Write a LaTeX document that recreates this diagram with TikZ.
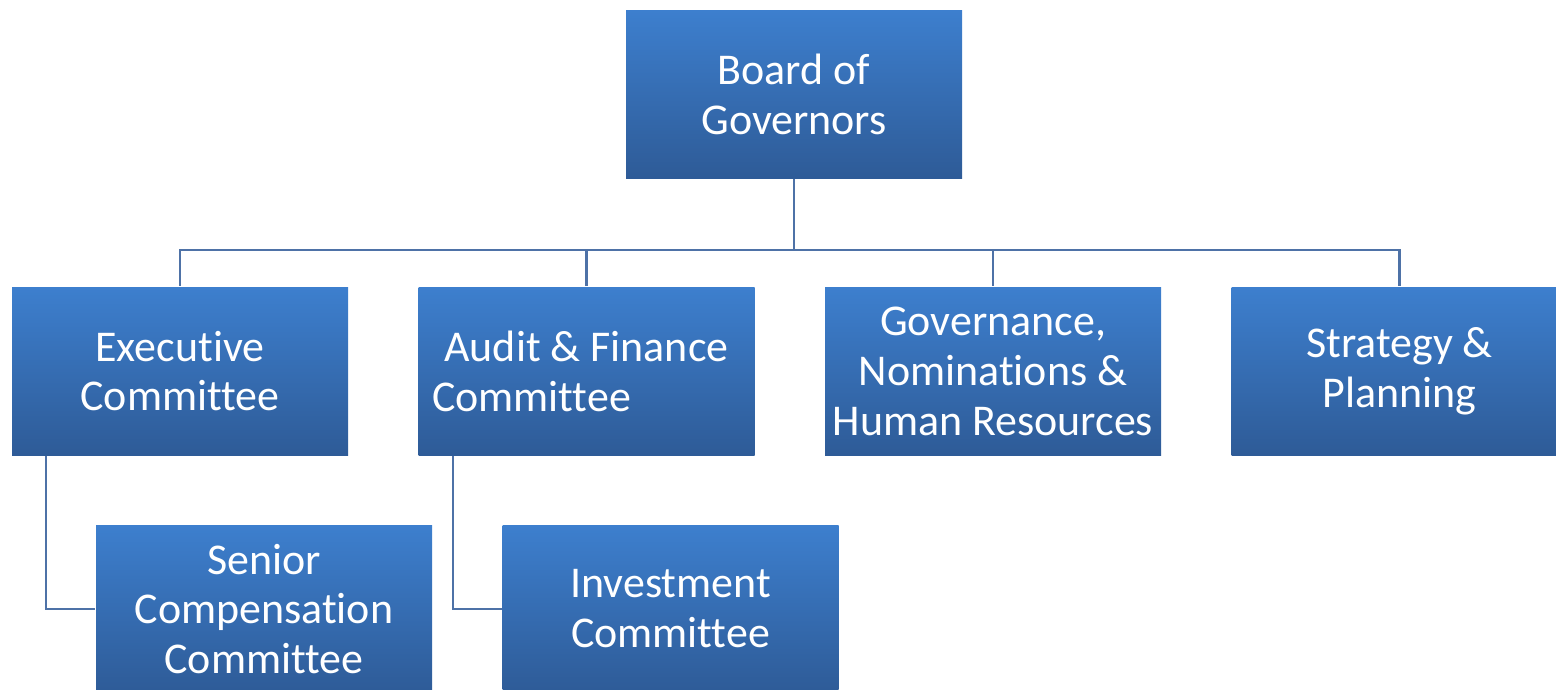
\documentclass[tikz,border=0pt]{standalone}
\usepackage{fontspec}
\setmainfont{Carlito}[Ligatures=CommonOff]
\usepackage{tikz}

\definecolor{boxtop}{HTML}{3D7FCE}
\definecolor{boxbottom}{HTML}{2E5B97}
\definecolor{linkblue}{HTML}{4E72A7}

\tikzset{
	unit/.style={rectangle, top color=boxtop, bottom color=boxbottom,
		minimum width=3.36cm, minimum height=1.68cm, inner sep=0pt,
		align=center, text=white, font=\fontsize{12.5}{14.2}\selectfont},
	link/.style={draw=linkblue, line width=0.6pt}
}

\begin{document}
\begin{tikzpicture}[node distance = 4.065cm, auto]
		\clip (0,0) rectangle (15.56,-6.89);
		\node [unit] (board) at (7.94,-0.94) {Board of\\Governors};
		\node [unit, below of=board, node distance=2.77cm, xshift=-2.075cm] (audit) {Audit \& Finance\\Committee\hspace*{1.1cm}};
		\node [unit, left of=audit] (exec) {Executive\\Committee};
		\node [unit, right of=audit] (gov) {Governance,\\Nominations \&\\Human Resources};
		\node [unit, right of=gov] (strat) {Strategy \&\\Planning};
		\node [unit, below of=exec, node distance=2.38cm, xshift=0.84cm] (senior) {Senior\\Compensation\\Committee};
		\node [unit, below of=audit, node distance=2.38cm, xshift=0.84cm] (invest) {Investment\\Committee};
		
		\coordinate [below of=board, node distance=1.56cm] (bus);
		\draw[link]
		(board) -- (bus);
		\draw[link]
		(bus) -| (exec);
		\draw[link]
		(bus) -| (audit);
		\draw[link]
		(bus) -| (gov);
		\draw[link]
		(bus) -| (strat);
		\draw[link]
		([xshift=0.35cm]exec.south west) |- (senior);
		\draw[link]
		([xshift=0.35cm]audit.south west) |- (invest);
		
		\end{tikzpicture}
\end{document}
